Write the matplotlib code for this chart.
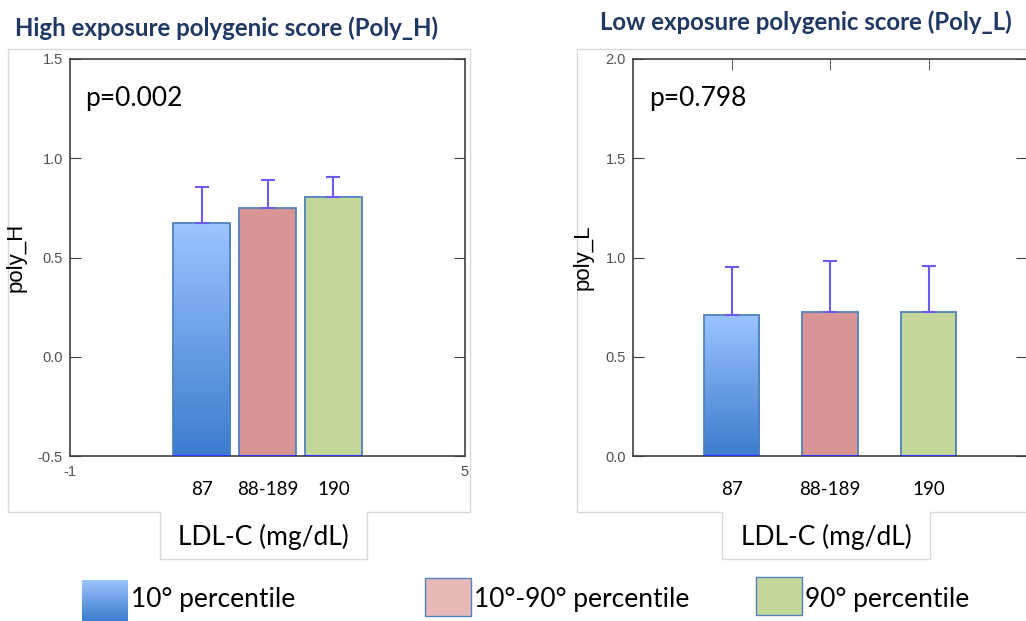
import numpy as np
import matplotlib
matplotlib.use("Agg")
from matplotlib import pyplot as plt
from matplotlib.patches import Polygon, Rectangle
from matplotlib.colors import LinearSegmentedColormap

# data
groups = ["87", "88-189", "190"]
legend_labels = ["10° percentile", "10°-90° percentile", "90° percentile"]
poly_h_mean = [0.672, 0.750, 0.805]
poly_h_upper = [0.853, 0.892, 0.905]
poly_l_mean = [0.712, 0.727, 0.727]
poly_l_upper = [0.950, 0.980, 0.955]
p_values = ["p=0.002", "p=0.798"]
titles = ["High exposure polygenic score (Poly_H)", "Low exposure polygenic score (Poly_L)"]

W, H = 1026, 621
fig = plt.figure(figsize=(W / 100, H / 100), dpi=100)

blue_cmap = LinearSegmentedColormap.from_list("bl", ["#3c7ccd", "#9cc4ff"])
pink = "#d99594"
green = "#c4d79b"
edge = "#4f81bd"
err_col = "#6a5cf0"
navy = "#1f3864"
body_font = ["Lato", "DejaVu Sans"]
tick_font = ["Liberation Sans", "DejaVu Sans"]


def px(x, y):
    return x / W, 1 - y / H


def outline(x0, x1, y0, y1, tx0, tx1, ty1):
    pts = [(x0, y0), (x1, y0), (x1, y1), (tx1, y1), (tx1, ty1), (tx0, ty1), (tx0, y1), (x0, y1)]
    fig.patches.append(Polygon([px(a, b) for a, b in pts], closed=True, fill=False,
                               edgecolor="#d9d9d9", lw=1, transform=fig.transFigure, zorder=-1))


outline(8, 470, 49, 512, 160, 367, 559)
outline(577, 1030, 49, 512, 722, 930, 559)


def panel(rect, mean, upper, xlim, ylim, yticks, width, ylabel, label_x, bottom_ticks, top_ticks):
    ax = fig.add_axes(rect)
    x = np.arange(1, 4)
    base = ylim[0]
    heights = np.array(mean) - base
    bars = ax.bar(x, heights, width, bottom=base, color=["none", pink, green],
                  edgecolor=edge, lw=1.3, zorder=2)
    # gradient on the first bar
    b = bars[0]
    grad = np.linspace(0, 1, 256).reshape(-1, 1)
    im = ax.imshow(grad, cmap=blue_cmap, aspect="auto", origin="lower", zorder=1,
                   extent=[b.get_x(), b.get_x() + b.get_width(), base, mean[0]])
    im.set_clip_path(b)
    up = np.array(upper) - np.array(mean)
    ax.errorbar(x, mean, yerr=[np.zeros(3), up], fmt="none", ecolor=err_col, elinewidth=1.5,
                capsize=5, capthick=1.5, zorder=3)
    ax.hlines(np.full(3, base), x - width / 2, x + width / 2, color="#3333ff", lw=1.5, zorder=4)
    ax.set_xlim(*xlim)
    ax.set_ylim(*ylim)
    ax.set_yticks(yticks)
    ax.set_yticklabels([f"{v:.1f}" for v in yticks], fontfamily=tick_font, fontsize=10.5, color="#505050")
    ax.tick_params(axis="y", which="major", left=True, right=True, direction="in", length=8, pad=5,
                   color="#404040")
    ax.set_xticks(bottom_ticks)
    ax.set_xticklabels([str(t) for t in bottom_ticks], fontfamily=tick_font, fontsize=10.5, color="#505050")
    ax.set_xticks(x, minor=True)
    ax.set_xticklabels(groups, minor=True, fontfamily=body_font, fontsize=13.5)
    ax.tick_params(axis="x", which="major", bottom=False, top=False, pad=3)
    ax.tick_params(axis="x", which="minor", bottom=False, top=top_ticks, direction="in", length=8, pad=18,
                   color="#404040")
    for s in ax.spines.values():
        s.set_color("#404040")
        s.set_linewidth(1.2)
    ax.set_ylabel(ylabel, fontfamily=tick_font, fontsize=16)
    ax.yaxis.set_label_coords(label_x, 0.5)
    return ax


ax1 = panel([70 / W, 1 - 456 / H, 395 / W, 397 / H], poly_h_mean, poly_h_upper, (-1, 5), (-0.5, 1.5),
            [-0.5, 0.0, 0.5, 1.0, 1.5], 0.87, "poly_H", -0.111, [-1, 5], False)
ax2 = panel([633 / W, 1 - 456 / H, 394 / W, 397 / H], poly_l_mean, poly_l_upper, (0, 4), (0.0, 2.0),
            [0.0, 0.5, 1.0, 1.5, 2.0], 0.56, "poly_L", -0.099, [], True)

for ax, p, xp in zip([ax1, ax2], p_values, [0.038, 0.042]):
    ax.text(xp, 0.90, p, transform=ax.transAxes, fontfamily=body_font, fontsize=19, va="center")

fig.text(*px(15, 28), titles[0], fontfamily=body_font, fontweight="bold", fontsize=17.3, color=navy, va="center")
fig.text(*px(600, 22), titles[1], fontfamily=body_font, fontweight="bold", fontsize=17.3, color=navy, va="center")
fig.text(*px(263, 537), "LDL-C (mg/dL)", fontfamily=body_font, fontsize=19, ha="center", va="center")
fig.text(*px(826, 537), "LDL-C (mg/dL)", fontfamily=body_font, fontsize=19, ha="center", va="center")

# legend
lax = fig.add_axes([82 / W, 1 - 621 / H, 46 / W, 41 / H])
lax.imshow(np.linspace(0, 1, 256).reshape(-1, 1), cmap=blue_cmap, aspect="auto", origin="lower",
           extent=[0, 1, 0, 1])
lax.set_axis_off()
fig.patches.append(Rectangle(px(425, 616), 46 / W, 38 / H, facecolor="#e6b9b8", edgecolor=edge,
                             lw=1, transform=fig.transFigure))
fig.patches.append(Rectangle(px(756, 615), 46 / W, 38 / H, facecolor=green, edgecolor=edge,
                             lw=1, transform=fig.transFigure))
for xt, lab in zip([131, 474, 805], legend_labels):
    fig.text(*px(xt, 599), lab, fontfamily=body_font, fontsize=19, va="center")

fig.savefig("out.png", dpi=100)
